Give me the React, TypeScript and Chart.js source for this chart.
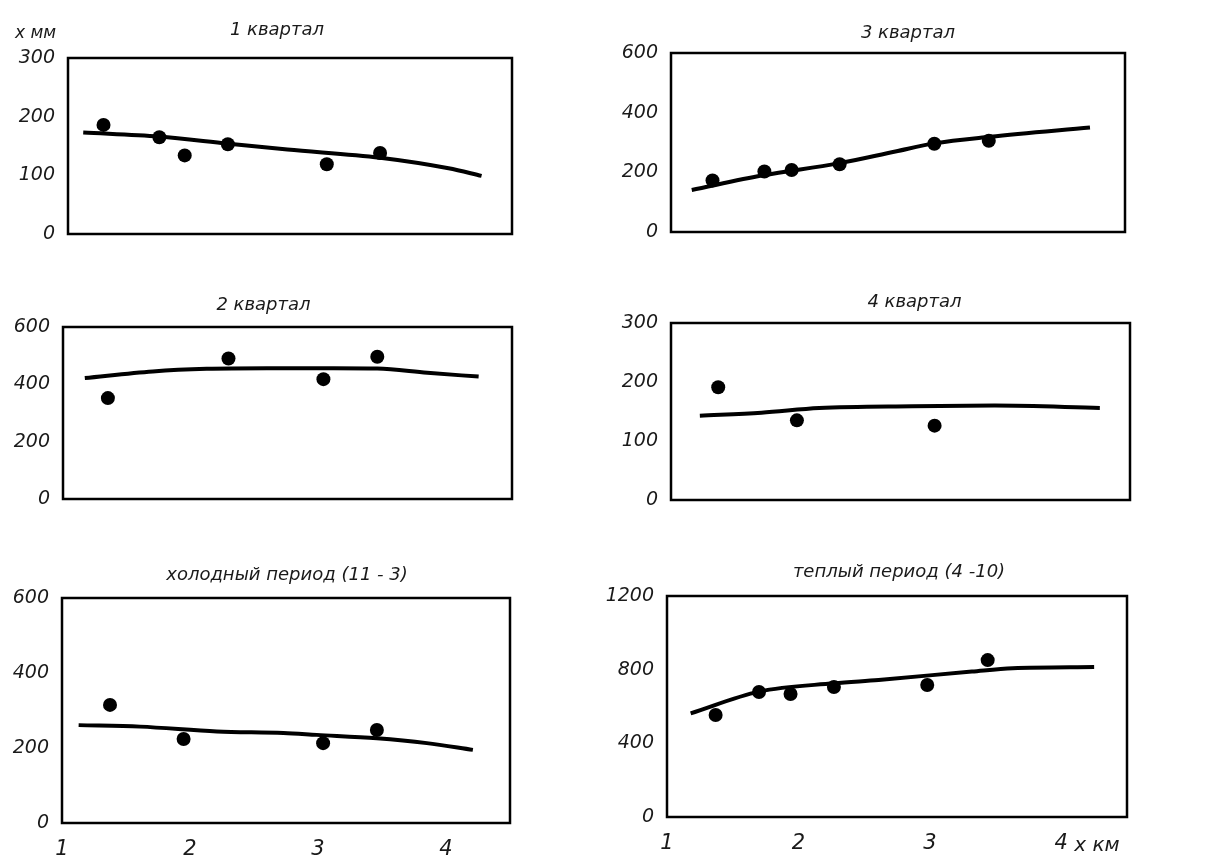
import React, { useEffect, useRef } from "react";
import { Chart, registerables } from "chart.js";
Chart.register(...registerables);

// ---------- data ----------
const xTickValues = [1, 2, 3, 4];

const q1Title = "1 квартал";
const q1PtsX = [1.28, 1.72, 1.92, 2.26, 3.04, 3.46];
const q1PtsY = [186, 165, 134, 153, 119, 138];
const q1LineX = [1.12, 1.72, 2.26, 2.73, 3.46, 4.0, 4.26];
const q1LineY = [173, 166, 154, 144, 130, 112, 99];
const q1YTicks = [0, 100, 200, 300];

const q3Title = "3 квартал";
const q3PtsX = [1.32, 1.72, 1.93, 2.3, 3.03, 3.45];
const q3PtsY = [173, 203, 208, 227, 296, 306];
const q3LineX = [1.16, 1.71, 2.29, 2.73, 3.03, 3.46, 4.23];
const q3LineY = [141, 190, 230, 270, 297, 319, 350];
const q3YTicks = [0, 200, 400, 600];

const q2Title = "2 квартал";
const q2PtsX = [1.35, 2.29, 3.03, 3.45];
const q2PtsY = [352, 490, 418, 496];
const q2LineX = [1.17, 1.7, 2.12, 2.59, 3.11, 3.45, 3.84, 4.24];
const q2LineY = [422, 445, 454, 456, 456, 455, 440, 427];
const q2YTicks = [0, 200, 400, 600];

const q4Title = "4 квартал";
const q4PtsX = [1.36, 1.96, 3.01];
const q4PtsY = [191, 135, 126];
const q4LineX = [1.22, 1.69, 2.13, 2.84, 3.47, 4.27];
const q4LineY = [143, 148, 156, 159, 160, 156];
const q4YTicks = [0, 100, 200, 300];

const coldTitle = "холодный период (11 - 3)";
const coldPtsX = [1.375, 1.95, 3.04, 3.46];
const coldPtsY = [315, 224, 213, 248];
const coldLineX = [1.13, 1.61, 2.21, 2.73, 2.99, 3.46, 3.85, 4.21];
const coldLineY = [261, 257, 244, 240, 235, 226, 213, 195];
const coldYTicks = [0, 200, 400, 600];

const warmTitle = "теплый период (4 -10)";
const warmPtsX = [1.37, 1.7, 1.94, 2.27, 2.98, 3.44];
const warmPtsY = [554, 679, 668, 706, 717, 852];
const warmLineX = [1.18, 1.7, 2.27, 2.61, 3.32, 3.63, 4.25];
const warmLineY = [563, 681, 726, 744, 790, 808, 814];
const warmYTicks = [0, 400, 800, 1200];

const yAxisLabel = "x мм";
const xAxisLabel = "x км";

// ---------- layout ----------
const Y_AXIS_W = 62;
const PAD_TOP = 42;
const PAD_RIGHT = 12;
const PAD_BOTTOM = 12;
const X_AXIS_H = 46;

type Panel = {
  title: string;
  ptsX: number[];
  ptsY: number[];
  lineX: number[];
  lineY: number[];
  yTicks: number[];
  L: number;
  R: number;
  T: number;
  B: number;
  showX: boolean;
  titleDx: number;
  titleDy: number;
  extraY?: boolean;
  extraX?: boolean;
};

const panels: Panel[] = [
  { title: q1Title, ptsX: q1PtsX, ptsY: q1PtsY, lineX: q1LineX, lineY: q1LineY, yTicks: q1YTicks, L: 68, R: 512, T: 58, B: 280, showX: false, titleDx: -13, titleDy: -28, extraY: true },
  { title: q3Title, ptsX: q3PtsX, ptsY: q3PtsY, lineX: q3LineX, lineY: q3LineY, yTicks: q3YTicks, L: 671, R: 1125, T: 53, B: 278, showX: false, titleDx: 10, titleDy: -20 },
  { title: q2Title, ptsX: q2PtsX, ptsY: q2PtsY, lineX: q2LineX, lineY: q2LineY, yTicks: q2YTicks, L: 63, R: 512, T: 327, B: 545, showX: false, titleDx: -24, titleDy: -22 },
  { title: q4Title, ptsX: q4PtsX, ptsY: q4PtsY, lineX: q4LineX, lineY: q4LineY, yTicks: q4YTicks, L: 671, R: 1130, T: 323, B: 546, showX: false, titleDx: 14, titleDy: -21 },
  { title: coldTitle, ptsX: coldPtsX, ptsY: coldPtsY, lineX: coldLineX, lineY: coldLineY, yTicks: coldYTicks, L: 62, R: 510, T: 598, B: 823, showX: true, titleDx: 1, titleDy: -23 },
  { title: warmTitle, ptsX: warmPtsX, ptsY: warmPtsY, lineX: warmLineX, lineY: warmLineY, yTicks: warmYTicks, L: 667, R: 1127, T: 596, B: 817, showX: true, titleDx: 2, titleDy: -24, extraX: true },
];

const TEXT_COLOR = "#1a1a1a";
const FONT_FAMILY = '"DejaVu Sans", sans-serif';

const framePlugin = {
  id: "frameAndTitle",
  afterDraw(chart: any, _args: any, opts: any) {
    const { ctx, chartArea } = chart;
    const { left, top, right, bottom } = chartArea;
    ctx.save();
    ctx.strokeStyle = "#000";
    ctx.lineWidth = 2.5;
    ctx.strokeRect(left, top, right - left, bottom - top);
    ctx.fillStyle = "#1a1a1a";
    ctx.font = `italic 18px ${FONT_FAMILY}`;
    ctx.textAlign = "center";
    ctx.textBaseline = "middle";
    ctx.fillText(opts.title, (left + right) / 2 + opts.titleDx, top + opts.titleDy);
    if (opts.extraY) {
      ctx.font = `italic 17px ${FONT_FAMILY}`;
      ctx.textAlign = "left";
      ctx.fillStyle = TEXT_COLOR;
      ctx.fillText(yAxisLabel, left - 53, top - 24);
    }
    if (opts.extraX) {
      const xs = chart.scales.x;
      ctx.font = `italic 20px ${FONT_FAMILY}`;
      ctx.textAlign = "left";
      ctx.fillStyle = TEXT_COLOR;
      ctx.fillText(xAxisLabel, xs.getPixelForValue(4) + 13, bottom + 29);
    }
    ctx.restore();
  },
};

function PanelChart({ p }: { p: Panel }) {
  const ref = useRef<HTMLCanvasElement | null>(null);
  const width = Y_AXIS_W + (p.R - p.L) + PAD_RIGHT;
  const height = PAD_TOP + (p.B - p.T) + (p.showX ? X_AXIS_H : PAD_BOTTOM);
  useEffect(() => {
    if (!ref.current) return;
    const yMax = p.yTicks[p.yTicks.length - 1];
    const chart = new Chart(ref.current, {
      type: "scatter",
      data: {
        datasets: [
          {
            data: p.lineX.map((x, i) => ({ x, y: p.lineY[i] })),
            showLine: true,
            borderColor: "#000",
            borderWidth: 4,
            pointRadius: 0,
            tension: 0.4,
            cubicInterpolationMode: "monotone",
          } as any,
          {
            data: p.ptsX.map((x, i) => ({ x, y: p.ptsY[i] })),
            backgroundColor: "#000",
            borderColor: "#000",
            borderWidth: 0,
            pointRadius: 7,
          },
        ],
      },
      options: {
        responsive: false,
        animation: false,
        layout: {
          padding: { left: 0, top: PAD_TOP, right: PAD_RIGHT, bottom: p.showX ? 0 : PAD_BOTTOM },
        },
        plugins: {
          legend: { display: false },
          tooltip: { enabled: false },
          frameAndTitle: { title: p.title, titleDx: p.titleDx, titleDy: p.titleDy, extraY: !!p.extraY, extraX: !!p.extraX },
        } as any,
        scales: {
          x: {
            type: "linear",
            min: 1,
            max: 4.5,
            display: p.showX,
            grid: { display: false, drawTicks: false },
            border: { display: false },
            afterBuildTicks: (s: any) => {
              s.ticks = xTickValues.map((v) => ({ value: v }));
            },
            afterFit: (s: any) => {
              s.height = X_AXIS_H;
            },
            ticks: {
              color: TEXT_COLOR,
              padding: 14,
              font: { family: FONT_FAMILY, size: 21, style: "italic" },
              callback: (v: any) => String(v),
            },
          },
          y: {
            type: "linear",
            min: 0,
            max: yMax,
            grid: { display: false, drawTicks: false },
            border: { display: false },
            afterBuildTicks: (s: any) => {
              s.ticks = p.yTicks.map((v) => ({ value: v }));
            },
            afterFit: (s: any) => {
              s.width = Y_AXIS_W;
            },
            ticks: {
              color: TEXT_COLOR,
              padding: 13,
              font: { family: FONT_FAMILY, size: 19, style: "italic" },
              callback: (v: any) => String(v),
            },
          },
        },
      },
      plugins: [framePlugin],
    });
    return () => chart.destroy();
  }, [p]);
  return (
    <div
      style={{
        position: "absolute",
        left: p.L - Y_AXIS_W,
        top: p.T - PAD_TOP,
        width,
        height,
      }}
    >
      <canvas ref={ref} width={width} height={height} style={{ display: "block" }} />
    </div>
  );
}

export default function App() {
  return (
    <div
      style={{
        position: "absolute",
        left: 0,
        top: 0,
        width: 1224,
        height: 861,
        background: "#fff",
        overflow: "hidden",
      }}
    >
      {panels.map((p, i) => (
        <PanelChart key={i} p={p} />
      ))}
    </div>
  );
}
